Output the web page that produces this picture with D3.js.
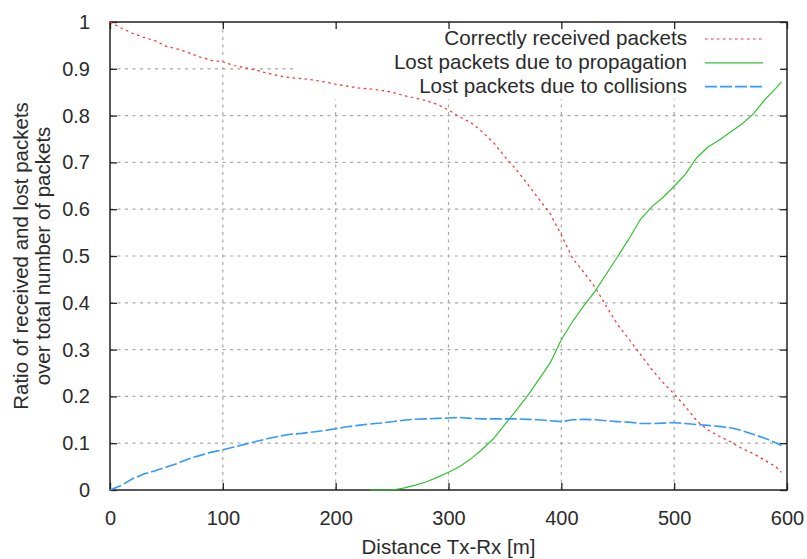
<!DOCTYPE html>
<html>
<head>
<meta charset="utf-8">
<script src="https://cdn.jsdelivr.net/npm/d3@7"></script>
<style>
  body { margin: 0; background: #fff; }
  svg { display: block; }
  text { font-family: "Liberation Sans", Arial, sans-serif; fill: #2b2b2b; }
</style>
</head>
<body>
<div id="container"></div>
<script>
// distance Tx-Rx in metres
var distance = [0, 10, 20, 30, 40, 50, 60, 70, 80, 90,
	100, 110, 120, 130, 140, 150, 160, 170, 180, 190,
	200, 210, 220, 230, 240, 250, 260, 270, 280, 290,
	300, 310, 320, 330, 340, 350, 360, 370, 380, 390,
	400, 410, 420, 430, 440, 450, 460, 470, 480, 490,
	500, 510, 520, 530, 540, 550, 560, 570, 580, 590, 595];

var received = [1.0, 0.987, 0.976, 0.967, 0.960, 0.948, 0.942, 0.934, 0.925, 0.918,
	0.915, 0.907, 0.902, 0.897, 0.890, 0.885, 0.881, 0.879, 0.876, 0.872,
	0.867, 0.863, 0.859, 0.857, 0.854, 0.850, 0.843, 0.838, 0.832, 0.824,
	0.812, 0.797, 0.785, 0.765, 0.742, 0.712, 0.685, 0.654, 0.622, 0.591,
	0.545, 0.495, 0.465, 0.433, 0.392, 0.353, 0.322, 0.290, 0.258, 0.230,
	0.205, 0.178, 0.148, 0.128, 0.115, 0.103, 0.089, 0.078, 0.064, 0.050, 0.038];

// null = no value plotted (propagation loss only starts around 230 m)
var lostPropagation = [null, null, null, null, null, null, null, null, null, null,
	null, null, null, null, null, null, null, null, null, null,
	null, null, null, 0, 0, 0, 0.004, 0.010, 0.017, 0.027,
	0.038, 0.050, 0.067, 0.087, 0.110, 0.140, 0.170, 0.201, 0.236, 0.271,
	0.321, 0.360, 0.394, 0.425, 0.462, 0.499, 0.537, 0.578, 0.605, 0.625,
	0.649, 0.675, 0.710, 0.733, 0.748, 0.765, 0.782, 0.803, 0.833, 0.858, 0.872];

var lostCollisions = [0, 0.010, 0.024, 0.034, 0.041, 0.049, 0.057, 0.067, 0.074, 0.081,
	0.086, 0.092, 0.098, 0.104, 0.110, 0.115, 0.119, 0.121, 0.124, 0.127,
	0.131, 0.135, 0.138, 0.141, 0.143, 0.146, 0.149, 0.151, 0.152, 0.153,
	0.154, 0.155, 0.153, 0.152, 0.152, 0.152, 0.152, 0.151, 0.150, 0.148,
	0.146, 0.150, 0.151, 0.150, 0.148, 0.146, 0.145, 0.142, 0.142, 0.143,
	0.144, 0.142, 0.140, 0.138, 0.136, 0.133, 0.127, 0.119, 0.111, 0.101, 0.095];

var xTicks = [0, 100, 200, 300, 400, 500, 600];
var yTicks = [0, 0.1, 0.2, 0.3, 0.4, 0.5, 0.6, 0.7, 0.8, 0.9, 1];

var seriesNames = ["Correctly received packets", "Lost packets due to propagation", "Lost packets due to collisions"];

function load() {

	// define margins
	var margin = { top: 22, right: 20, bottom: 69, left: 110 },
		width = 807 - margin.left - margin.right,
		height = 559 - margin.top - margin.bottom;

	var svg = d3.select("#container").append("svg")
		.attr("width", width + margin.left + margin.right)
		.attr("height", height + margin.top + margin.bottom)
	  .append("g")
		.attr("transform", "translate(" + margin.left + "," + margin.top + ")");

	// scales
	var x = d3.scaleLinear().domain([0, 600]).range([0, width]);
	var y = d3.scaleLinear().domain([0, 1]).range([height, 0]);

	var series = [
		{ name: seriesNames[0], values: received, color: "#ff2a2a", dash: "2.5,3.5", w: 1.2 },
		{ name: seriesNames[1], values: lostPropagation, color: "#2ec42e", dash: null, w: 1.2 },
		{ name: seriesNames[2], values: lostCollisions, color: "#3399ff", dash: "12,3", w: 1.6 }
	];

	// grid
	var grid = svg.append("g").attr("class", "grid")
		.style("stroke", "#a8a8a8").style("stroke-width", 1.2)
		.style("stroke-dasharray", "3,4.5");

	grid.selectAll(".vx").data(xTicks.slice(1, -1)).enter().append("line")
		.attr("x1", function(d) { return x(d); }).attr("x2", function(d) { return x(d); })
		.attr("y1", 0).attr("y2", height);

	grid.selectAll(".hy").data(yTicks.slice(1, -1)).enter().append("line")
		.attr("x1", 0).attr("x2", width)
		.attr("y1", function(d) { return y(d); }).attr("y2", function(d) { return y(d); });

	// legend box hides the grid behind it
	var key = svg.append("g").attr("class", "legend");
	key.append("rect")
		.attr("x", x(163)).attr("y", 1)
		.attr("width", x(595) - x(163)).attr("height", y(0.835) - 1)
		.style("fill", "#fff");

	// axes, ticks inward and mirrored
	var tickIn = -7;
	svg.append("g")
		.attr("transform", "translate(0," + height + ")")
		.call(d3.axisBottom(x).tickValues(xTicks).tickSizeInner(tickIn).tickSizeOuter(0).tickPadding(21))
		.call(styleAxis);
	svg.append("g")
		.call(d3.axisTop(x).tickValues(xTicks).tickSizeInner(tickIn).tickSizeOuter(0).tickFormat(""))
		.call(styleAxis);
	svg.append("g")
		.call(d3.axisLeft(y).tickValues(yTicks).tickSizeInner(tickIn).tickSizeOuter(0).tickPadding(20)
			.tickFormat(function(d) { return d === 1 ? "1" : d === 0 ? "0" : d3.format(".1f")(d); }))
		.call(styleAxis);
	svg.append("g")
		.attr("transform", "translate(" + width + ",0)")
		.call(d3.axisRight(y).tickValues(yTicks).tickSizeInner(tickIn).tickSizeOuter(0).tickFormat(""))
		.call(styleAxis);

	function styleAxis(g) {
		g.select(".domain").remove();
		g.selectAll(".tick line").style("stroke", "#222").style("stroke-width", 1.3);
		g.selectAll(".tick text").style("font-size", "20px").style("fill", "#2b2b2b")
			.style("font-family", "'Liberation Sans', Arial, sans-serif");
	}

	// frame
	svg.append("rect")
		.attr("width", width).attr("height", height)
		.style("fill", "none").style("stroke", "#222").style("stroke-width", 1.5);

	// lines
	var line = d3.line()
		.defined(function(d) { return d[1] !== null; })
		.x(function(d) { return x(d[0]); })
		.y(function(d) { return y(d[1]); });

	series.forEach(function(s) {
		svg.append("path")
			.datum(distance.map(function(d, i) { return [d, s.values[i]]; }))
			.attr("d", line)
			.style("fill", "none")
			.style("stroke", s.color)
			.style("stroke-width", s.w)
			.style("stroke-dasharray", s.dash);
	});

	// legend entries
	series.forEach(function(s, i) {
		var by = 23 + i * 23.8;
		key.append("text")
			.attr("x", 577).attr("y", by)
			.style("text-anchor", "end").style("font-size", "20.6px")
			.text(s.name);
		key.append("line")
			.attr("x1", 595).attr("x2", 653)
			.attr("y1", by - 6).attr("y2", by - 6)
			.style("stroke", s.color).style("stroke-width", s.w)
			.style("stroke-dasharray", s.dash);
	});

	// axis labels
	svg.append("text")
		.attr("x", width / 2).attr("y", height + 64)
		.style("text-anchor", "middle").style("font-size", "20.5px")
		.text("Distance Tx-Rx [m]");

	var yl = svg.append("text")
		.attr("transform", "translate(-82," + (height / 2) + ") rotate(-90)")
		.style("text-anchor", "middle").style("font-size", "20.5px");
	yl.append("tspan").attr("x", 0).attr("y", 0).text("Ratio of received and lost packets");
	yl.append("tspan").attr("x", 0).attr("y", 21.5).text("over total number of packets");
}
load();
</script>
</body>
</html>
